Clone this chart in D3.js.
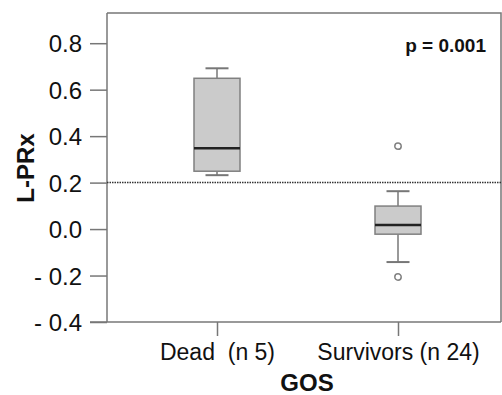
<!DOCTYPE html>
<html>
<head>
<meta charset="utf-8">
<script src="https://cdn.jsdelivr.net/npm/d3@7"></script>
<style>
  html, body { margin: 0; padding: 0; background: #fff; }
  svg { display: block; font-family: "Liberation Sans", Arial, sans-serif; }
</style>
</head>
<body>
<div id="chart"></div>
<script>
// box plot stats
const groups = ["Dead  (n 5)", "Survivors (n 24)"];
const whiskerLow = [0.232, -0.142];
const q1 = [0.249, -0.022];
const median = [0.348, 0.017];
const q3 = [0.649, 0.099];
const whiskerHigh = [0.692, 0.163];
const outliers = [[], [0.357, -0.206]];
const yTicks = [-0.4, -0.2, 0.0, 0.2, 0.4, 0.6, 0.8];
const cutoff = 0.2;

const width = 502, height = 395;
const frame = { left: 107, right: 501, top: 13, bottom: 322 };
const fontFamily = "'Liberation Sans', Arial, sans-serif";

const svg = d3.select("#chart").append("svg")
    .attr("width", width)
    .attr("height", height)
    .attr("font-family", fontFamily);

//Scales
const y = d3.scaleLinear()
    .domain([-0.4, 0.93])
    .range([frame.bottom, frame.top]);
const x = d3.scalePoint()
    .domain(groups)
    .range([217, 398]);

const boxW = 46, capW = 23;
const axisColor = "#777";

//Frame (top + right)
svg.append("path")
    .attr("d", `M${frame.left},${frame.top}H${frame.right}V${frame.bottom}`)
    .attr("fill", "none")
    .attr("stroke", axisColor)
    .attr("stroke-width", 1.5);

//Y axis
const yAxis = svg.append("g")
    .attr("transform", `translate(${frame.left},0)`)
    .call(d3.axisLeft(y).tickValues(yTicks).tickSize(17).tickPadding(8)
        .tickFormat(d => (d < 0 ? "- " + d3.format(".1f")(-d) : d3.format(".1f")(d))));
yAxis.attr("font-family", fontFamily);
yAxis.select(".domain").attr("stroke", axisColor).attr("stroke-width", 1.5)
    .attr("d", `M0,${frame.top}V${frame.bottom}`);
yAxis.selectAll(".tick line").attr("stroke", axisColor).attr("stroke-width", 1.5);
yAxis.selectAll(".tick text")
    .attr("fill", "#111")
    .style("font-size", "24px")
    .attr("dy", "0.36em");

//X axis
const xAxis = svg.append("g")
    .attr("transform", `translate(0,${frame.bottom})`)
    .call(d3.axisBottom(x).tickSize(14).tickPadding(8));
xAxis.attr("font-family", fontFamily);
xAxis.select(".domain").attr("stroke", axisColor).attr("stroke-width", 1.5)
    .attr("d", `M${frame.left - 17},0H${frame.right}`);
xAxis.selectAll(".tick line").attr("stroke", axisColor).attr("stroke-width", 1.5);
xAxis.selectAll(".tick text")
    .attr("fill", "#111")
    .style("font-size", "23px")
    .style("white-space", "pre")
    .attr("xml:space", "preserve");

//Axis titles
svg.append("text")
    .attr("transform", `translate(34,168) rotate(-90)`)
    .attr("text-anchor", "middle")
    .attr("font-weight", "bold")
    .attr("font-size", 24)
    .attr("fill", "#111")
    .text("L-PRx");
svg.append("text")
    .attr("x", 307)
    .attr("y", 391)
    .attr("text-anchor", "middle")
    .attr("font-weight", "bold")
    .attr("font-size", 24)
    .attr("fill", "#111")
    .text("GOS");

//Dotted reference line
svg.append("line")
    .attr("x1", frame.left).attr("x2", frame.right)
    .attr("y1", y(cutoff)).attr("y2", y(cutoff))
    .attr("stroke", "#333")
    .attr("stroke-width", 1.5)
    .attr("stroke-dasharray", "1.5,1");

//Boxes
const boxes = svg.selectAll(".box")
    .data(groups)
    .enter().append("g")
    .attr("class", "box")
    .attr("transform", d => `translate(${x(d)},0)`);

// whisker stems
boxes.append("line")
    .attr("y1", (d, i) => y(whiskerHigh[i]))
    .attr("y2", (d, i) => y(q3[i]))
    .attr("stroke", axisColor).attr("stroke-width", 1.5);
boxes.append("line")
    .attr("y1", (d, i) => y(q1[i]))
    .attr("y2", (d, i) => y(whiskerLow[i]))
    .attr("stroke", axisColor).attr("stroke-width", 1.5);
// caps
boxes.append("line")
    .attr("x1", -capW / 2).attr("x2", capW / 2)
    .attr("y1", (d, i) => y(whiskerHigh[i]))
    .attr("y2", (d, i) => y(whiskerHigh[i]))
    .attr("stroke", axisColor).attr("stroke-width", 2);
boxes.append("line")
    .attr("x1", -capW / 2).attr("x2", capW / 2)
    .attr("y1", (d, i) => y(whiskerLow[i]))
    .attr("y2", (d, i) => y(whiskerLow[i]))
    .attr("stroke", axisColor).attr("stroke-width", 2);
// box
boxes.append("rect")
    .attr("x", -boxW / 2)
    .attr("width", boxW)
    .attr("y", (d, i) => y(q3[i]))
    .attr("height", (d, i) => y(q1[i]) - y(q3[i]))
    .attr("fill", "#cbcbcb")
    .attr("stroke", "#808080")
    .attr("stroke-width", 1.5);
// median
boxes.append("line")
    .attr("x1", -boxW / 2).attr("x2", boxW / 2)
    .attr("y1", (d, i) => y(median[i]))
    .attr("y2", (d, i) => y(median[i]))
    .attr("stroke", "#222").attr("stroke-width", 2.5);
// outliers
boxes.selectAll(".outlier")
    .data((d, i) => outliers[i])
    .enter().append("circle")
    .attr("class", "outlier")
    .attr("cy", d => y(d))
    .attr("r", 3.2)
    .attr("fill", "#fff")
    .attr("stroke", "#808080")
    .attr("stroke-width", 1.5);

//p value
svg.append("text")
    .attr("x", 486)
    .attr("y", 52)
    .attr("text-anchor", "end")
    .attr("font-weight", "bold")
    .attr("font-size", 19)
    .attr("fill", "#111")
    .text("p = 0.001");
</script>
</body>
</html>
